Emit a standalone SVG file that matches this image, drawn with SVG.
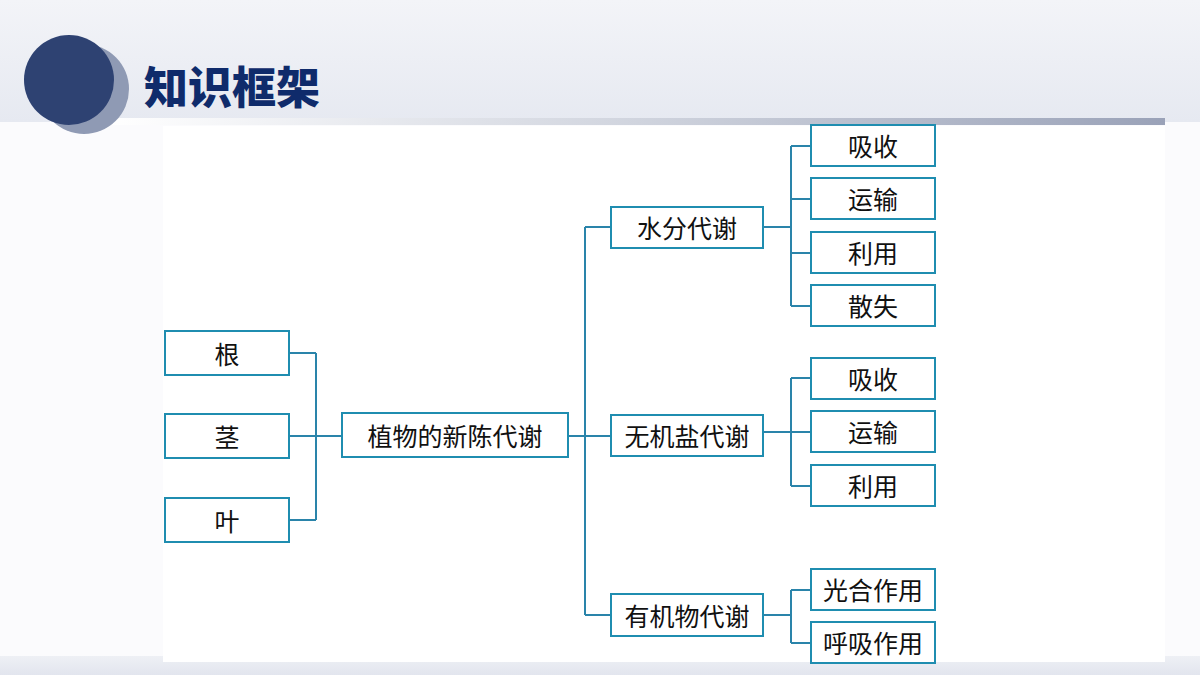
<svg xmlns="http://www.w3.org/2000/svg" width="1200" height="675" viewBox="0 0 1200 675">
<defs>
<linearGradient id="hdr" x1="0" y1="0" x2="0" y2="1"><stop offset="0" stop-color="#f3f4f8"/><stop offset="1" stop-color="#e6e9f1"/></linearGradient>
<linearGradient id="ln" x1="0" y1="0" x2="1" y2="0"><stop offset="0" stop-color="#ffffff"/><stop offset="0.5" stop-color="#d0d4de"/><stop offset="1" stop-color="#9aa2b8"/></linearGradient>
<linearGradient id="ft" x1="0" y1="0" x2="0" y2="1"><stop offset="0" stop-color="#eef0f5"/><stop offset="1" stop-color="#e2e5ee"/></linearGradient>
<style>
.b{fill:#fff;stroke:#1f8db0;stroke-width:2}
.t{font-family:"Noto Sans CJK SC",sans-serif;font-size:25px;fill:#111;text-anchor:middle;dominant-baseline:central}
.c{fill:none;stroke:#2a84aa;stroke-width:2}
</style>
</defs>
<rect width="1200" height="675" fill="#fbfbfd"/>
<rect width="1200" height="122" fill="url(#hdr)"/>
<rect x="110" y="118" width="1055" height="7" fill="url(#ln)"/>
<rect x="0" y="656" width="1200" height="19" fill="url(#ft)"/>
<rect x="163" y="126" width="1002" height="536" fill="#fff"/>
<circle cx="84" cy="89" r="45" fill="#8f9ab4"/>
<circle cx="69" cy="80" r="45" fill="#2e4272"/>
<text x="144" y="104" style="font-family:'Noto Sans CJK SC',sans-serif;font-weight:900;font-size:44px;fill:#0f2b6b">知识框架</text>
<g id="connectors" class="c">
<path d="M289 353H316M289 436H316M289 520H316M316 353V520M316 436H342"/>
<path d="M568 436H585M585 227V615M585 227H611M585 436H611M585 615H611"/>
<path d="M763 227H791M791 146V306M791 146H811M791 199H811M791 253H811M791 306H811"/>
<path d="M763 432H791M791 378V486M791 378H811M791 432H811M791 486H811"/>
<path d="M763 615H791M791 590V643M791 590H811M791 643H811"/>
</g>
<g id="n1"><rect class="b" x="165" y="331" width="124" height="44"/><text class="t" x="227" y="353">根</text></g>
<g id="n2"><rect class="b" x="165" y="414" width="124" height="44"/><text class="t" x="227" y="436">茎</text></g>
<g id="n3"><rect class="b" x="165" y="498" width="124" height="44"/><text class="t" x="227" y="520">叶</text></g>
<g id="n4"><rect class="b" x="342" y="413" width="226" height="44"/><text class="t" x="455" y="435">植物的新陈代谢</text></g>
<g id="n5"><rect class="b" x="611" y="207" width="152" height="41"/><text class="t" x="687" y="227">水分代谢</text></g>
<g id="n6"><rect class="b" x="611" y="415" width="152" height="41"/><text class="t" x="687" y="435">无机盐代谢</text></g>
<g id="n7"><rect class="b" x="611" y="594" width="152" height="42"/><text class="t" x="687" y="615">有机物代谢</text></g>
<g id="n8"><rect class="b" x="811" y="125" width="124" height="41"/><text class="t" x="873" y="145">吸收</text></g>
<g id="n9"><rect class="b" x="811" y="178" width="124" height="41"/><text class="t" x="873" y="198">运输</text></g>
<g id="n10"><rect class="b" x="811" y="232" width="124" height="41"/><text class="t" x="873" y="252">利用</text></g>
<g id="n11"><rect class="b" x="811" y="285" width="124" height="41"/><text class="t" x="873" y="305">散失</text></g>
<g id="n12"><rect class="b" x="811" y="358" width="124" height="41"/><text class="t" x="873" y="378">吸收</text></g>
<g id="n13"><rect class="b" x="811" y="411" width="124" height="41"/><text class="t" x="873" y="431">运输</text></g>
<g id="n14"><rect class="b" x="811" y="465" width="124" height="41"/><text class="t" x="873" y="485">利用</text></g>
<g id="n15"><rect class="b" x="811" y="569" width="124" height="41"/><text class="t" x="873" y="589">光合作用</text></g>
<g id="n16"><rect class="b" x="811" y="622" width="124" height="41"/><text class="t" x="873" y="642">呼吸作用</text></g>
</svg>
